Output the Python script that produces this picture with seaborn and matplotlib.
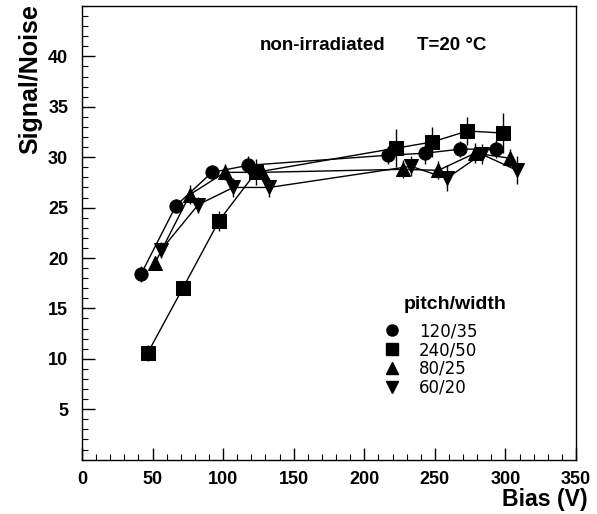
import numpy as np
import pandas as pd
import matplotlib
matplotlib.use("Agg")
import matplotlib.pyplot as plt
from matplotlib.lines import Line2D
from matplotlib.ticker import MultipleLocator
import seaborn as sns

# ---- data ----
labels = ["120/35", "240/50", "80/25", "60/20"]
markers = ["o", "s", "^", "v"]

bias_120_35 = [41.8, 66.6, 92.1, 117.9, 217.1, 243.1, 267.9, 293.4]
sn_120_35 = [18.4, 25.2, 28.5, 29.2, 30.2, 30.4, 30.8, 30.8]
err_120_35 = [0.8, 0.7, 0.7, 0.9, 0.9, 1.1, 0.8, 0.9]

bias_240_50 = [46.6, 71.4, 97.1, 123.2, 222.5, 247.8, 273.1, 298.2]
sn_240_50 = [10.6, 17.0, 23.7, 28.5, 30.9, 31.5, 32.6, 32.4]
err_240_50 = [0.8, 0.6, 1.0, 1.3, 1.9, 1.5, 1.4, 2.0]

bias_80_25 = [51.7, 76.5, 101.3, 127.4, 227.3, 252.5, 278.5, 303.3]
sn_80_25 = [19.5, 26.3, 28.5, 28.5, 28.8, 28.7, 30.4, 29.9]
err_80_25 = [0.7, 0.9, 0.8, 0.8, 0.9, 0.9, 1.0, 0.9]

bias_60_20 = [56.0, 82.4, 107.2, 132.7, 233.1, 258.4, 283.2, 308.1]
sn_60_20 = [20.8, 25.3, 27.0, 27.0, 29.1, 27.9, 30.3, 28.7]
err_60_20 = [0.8, 0.8, 0.9, 0.9, 1.0, 1.3, 1.0, 1.4]

series = [
    (bias_120_35, sn_120_35, err_120_35),
    (bias_240_50, sn_240_50, err_240_50),
    (bias_80_25, sn_80_25, err_80_25),
    (bias_60_20, sn_60_20, err_60_20),
]

sns.set_style("ticks")
plt.rcParams["font.family"] = ["Liberation Sans", "DejaVu Sans"]
plt.rcParams["text.color"] = "black"
plt.rcParams["axes.labelcolor"] = "black"
plt.rcParams["xtick.color"] = "black"
plt.rcParams["ytick.color"] = "black"

fig = plt.figure(figsize=(5.97, 5.14), dpi=100)
ax = fig.add_axes([0.1374, 0.1058, 0.8274, 0.8825])

for (x, y, e), lab, m in zip(series, labels, markers):
    df = pd.DataFrame({"Bias": x, "SN": y})
    ms = 9.5 if m in ("o", "s") else 10.5
    sns.lineplot(data=df, x="Bias", y="SN", marker=m, color="black",
                 markersize=ms, markeredgecolor="black", linewidth=1.0,
                 ax=ax, legend=False, sort=False, errorbar=None)
    ax.errorbar(x, y, yerr=e, fmt="none", ecolor="black", elinewidth=1.0,
                capsize=0)

ax.set_xlim(0, 350)
ax.set_ylim(0, 45)

for s in ["top", "right", "left", "bottom"]:
    ax.spines[s].set_visible(True)
    ax.spines[s].set_color("black")
    ax.spines[s].set_linewidth(1.0)

ax.xaxis.set_major_locator(MultipleLocator(50))
ax.xaxis.set_minor_locator(MultipleLocator(10))
ax.yaxis.set_major_locator(MultipleLocator(5))
ax.yaxis.set_minor_locator(MultipleLocator(1))
ax.set_yticks([5, 10, 15, 20, 25, 30, 35, 40])
ax.tick_params(which="major", direction="in", length=9, width=1.0,
               top=False, right=False, labelsize=13, colors="black")
ax.tick_params(axis="y", which="major", pad=10)
ax.tick_params(axis="x", which="major", pad=8)
ax.tick_params(which="minor", direction="in", length=4.5, width=0.8,
               top=False, right=False, colors="black")
for t in ax.get_xticklabels() + ax.get_yticklabels():
    t.set_fontweight("bold")

ax.set_xlabel("Bias (V)", fontsize=16.7, fontweight="bold", loc="right",
              color="black")
ax.set_ylabel("Signal/Noise", fontsize=18, fontweight="bold", loc="top",
              color="black")
ax.xaxis.set_label_coords(1.024, -0.063)
ax.yaxis.set_label_coords(-0.080, 1.005)

ax.text(0.360, 0.914, "non-irradiated", transform=ax.transAxes,
        fontsize=13.5, fontweight="bold", ha="left", va="center",
        color="black")
ax.text(0.678, 0.914, "T=20 °C", transform=ax.transAxes,
        fontsize=13.5, fontweight="bold", ha="left", va="center",
        color="black")

# legend (title drawn as separate text, offset as in the reference)
ax.text(0.755, 0.341, "pitch/width", transform=ax.transAxes,
        fontsize=14, fontweight="bold", ha="center", va="center",
        color="black")
handles = [Line2D([], [], marker=m, color="black", linestyle="none",
                  markersize=8 if m in ("o", "s") else 9)
           for m in markers]
leg = ax.legend(handles, labels, frameon=False,
                loc="upper left", bbox_to_anchor=(0.611, 0.303),
                prop={"family": "DejaVu Sans", "size": 12},
                handletextpad=1.1, labelspacing=0.05,
                handlelength=1.0, borderaxespad=0, borderpad=0)
for t in leg.get_texts():
    t.set_color("black")

fig.savefig("out.png", dpi=100)
